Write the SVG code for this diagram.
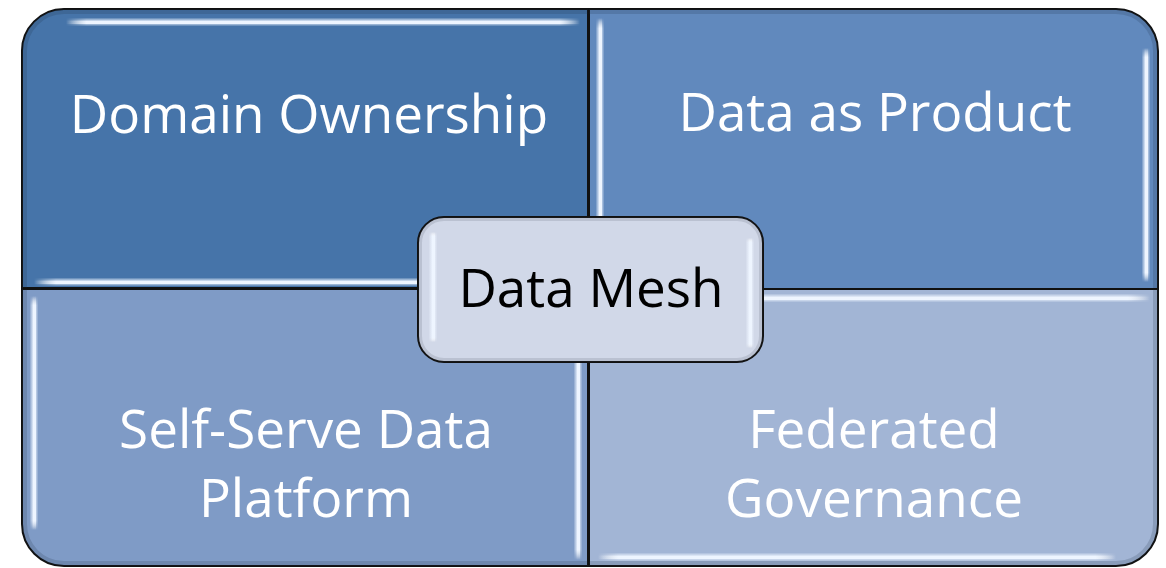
<svg xmlns="http://www.w3.org/2000/svg" width="1166" height="568" viewBox="0 0 1166 568">
  <style>
    .quad { stroke: #111; stroke-width: 2; }
    .lbl { font-family: "Open Sans", "Liberation Sans", sans-serif; font-size: 53px; fill: #ffffff; text-anchor: middle; }
    .center-lbl { font-family: "Open Sans", "Liberation Sans", sans-serif; font-size: 53px; fill: #000000; text-anchor: middle; }
    .hw { opacity: 0.5; }
    .shade { fill: none; stroke: #1a2a40; stroke-width: 10; opacity: 0.18; }
  </style>
  <defs>
    <linearGradient id="hlH" x1="0" y1="0" x2="1" y2="0">
      <stop offset="0" stop-color="#ffffff" stop-opacity="0"/>
      <stop offset="0.04" stop-color="#eef5ff" stop-opacity="1"/>
      <stop offset="0.96" stop-color="#eef5ff" stop-opacity="1"/>
      <stop offset="1" stop-color="#ffffff" stop-opacity="0"/>
    </linearGradient>
    <linearGradient id="hlV" x1="0" y1="0" x2="0" y2="1">
      <stop offset="0" stop-color="#ffffff" stop-opacity="0"/>
      <stop offset="0.04" stop-color="#eef5ff" stop-opacity="1"/>
      <stop offset="0.96" stop-color="#eef5ff" stop-opacity="1"/>
      <stop offset="1" stop-color="#ffffff" stop-opacity="0"/>
    </linearGradient>
    <clipPath id="cTL"><path d="M22,288 V52 A42,42 0 0 1 64,9 H588 V288 Z"/></clipPath>
    <clipPath id="cTR"><path d="M589,9 H1116 A42,42 0 0 1 1158,51 V289 H589 Z"/></clipPath>
    <clipPath id="cBL"><path d="M22,289 H588 V566 H64 A42,42 0 0 1 22,524 Z"/></clipPath>
    <clipPath id="cBR"><path d="M589,289 H1158 V524 A42,42 0 0 1 1116,566 H589 Z"/></clipPath>
    <clipPath id="cC"><rect x="418" y="217" width="345" height="145" rx="26"/></clipPath>
  </defs>

  <g id="node-domain-ownership">
    <path class="quad" fill="#4674A9" d="M22,288 V52 A42,42 0 0 1 64,9 H588 V288 Z"/>
    <path class="shade" clip-path="url(#cTL)" d="M22,288 V52 A42,42 0 0 1 64,9 H588"/>
    <rect class="hw" fill="url(#hlH)" x="66" y="18.5" width="514" height="7"/>
    <rect fill="url(#hlH)" x="66" y="20.5" width="514" height="3.5"/>
    <rect class="hw" fill="url(#hlH)" x="34" y="278.5" width="554" height="7"/>
    <rect fill="url(#hlH)" x="34" y="280.5" width="554" height="3.5"/>
    <text class="lbl" x="309" y="133">Domain Ownership</text>
  </g>

  <g id="node-data-as-product">
    <path class="quad" fill="#6189BD" d="M589,9 H1116 A42,42 0 0 1 1158,51 V289 H589 Z"/>
    <path class="shade" clip-path="url(#cTR)" d="M589,9 H1116 A42,42 0 0 1 1158,51 V289"/>
    <rect class="hw" fill="url(#hlV)" x="596.5" y="18" width="7" height="266"/>
    <rect fill="url(#hlV)" x="598.5" y="18" width="3.5" height="266"/>
    <rect class="hw" fill="url(#hlV)" x="1142.5" y="48" width="7" height="234"/>
    <rect fill="url(#hlV)" x="1144.5" y="48" width="3.5" height="234"/>
    <text class="lbl" x="875" y="131">Data as Product</text>
  </g>

  <g id="node-self-serve">
    <path class="quad" fill="#7F9BC6" d="M22,289 H588 V566 H64 A42,42 0 0 1 22,524 Z"/>
    <path class="shade" clip-path="url(#cBL)" d="M22,289 V524 A42,42 0 0 0 64,566 H588"/>
    <rect class="hw" fill="url(#hlV)" x="30.5" y="296" width="7" height="234"/>
    <rect fill="url(#hlV)" x="32.5" y="296" width="3.5" height="234"/>
    <rect class="hw" fill="url(#hlV)" x="574.5" y="296" width="7" height="264"/>
    <rect fill="url(#hlV)" x="576.5" y="296" width="3.5" height="264"/>
    <text class="lbl" x="306" y="448">Self-Serve Data</text>
    <text class="lbl" x="306" y="517">Platform</text>
  </g>

  <g id="node-federated-governance">
    <path class="quad" fill="#A2B5D5" d="M589,289 H1158 V524 A42,42 0 0 1 1116,566 H589 Z"/>
    <path class="shade" clip-path="url(#cBR)" d="M1158,289 V524 A42,42 0 0 1 1116,566 H589"/>
    <rect class="hw" fill="url(#hlH)" x="598" y="294.5" width="552" height="7"/>
    <rect fill="url(#hlH)" x="598" y="296.5" width="552" height="3.5"/>
    <rect class="hw" fill="url(#hlH)" x="598" y="553.5" width="518" height="7"/>
    <rect fill="url(#hlH)" x="598" y="555.5" width="518" height="3.5"/>
    <text class="lbl" x="874" y="448">Federated</text>
    <text class="lbl" x="874" y="517">Governance</text>
  </g>

  <g id="connectors"></g>

  <g id="node-data-mesh">
    <rect x="418" y="217" width="345" height="145" rx="26" fill="#D1D8E8" stroke="#111" stroke-width="2"/>
    <rect x="418" y="217" width="345" height="145" rx="26" fill="none" stroke="#3a4050" stroke-width="8" opacity="0.15" clip-path="url(#cC)"/>
    <rect class="hw" fill="url(#hlV)" x="429.5" y="232" width="7" height="110"/>
    <rect fill="url(#hlV)" x="431.5" y="232" width="3.5" height="110"/>
    <rect class="hw" fill="url(#hlV)" x="746.5" y="238" width="7" height="110"/>
    <rect fill="url(#hlV)" x="748.5" y="238" width="3.5" height="110"/>
    <text class="center-lbl" x="591" y="307">Data Mesh</text>
  </g>
</svg>
